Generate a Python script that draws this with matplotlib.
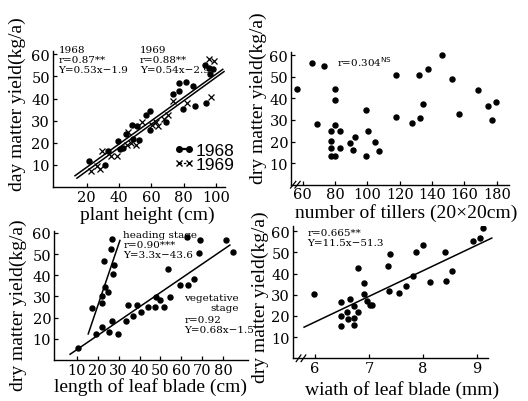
import matplotlib
matplotlib.use("Agg")
import matplotlib.pyplot as plt

# ---------------- data ----------------
# Panel 1: plant height vs dry matter yield
p1_x_1968 = [21.6, 31.3, 33.4, 39.6, 40.6, 42.7, 44.3, 47.8, 50.9, 48.4, 52.5, 56.7, 59.2, 59.2,
             69.1, 73.6, 77.3, 77.3, 79.4, 81.4, 86.0, 87.0, 93.2, 95.9, 98.4, 93.8, 96.3]
p1_y_1968 = [11.8, 10.0, 16.2, 21.0, 17.2, 17.5, 23.9, 28.0, 27.7, 21.7, 21.4, 32.5, 34.5, 25.9,
             29.2, 42.0, 47.0, 43.5, 35.2, 47.6, 45.7, 36.7, 55.0, 54.0, 53.2, 38.2, 51.0]
p1_x_1969 = [22.5, 26.2, 28.2, 29.3, 35.1, 39.0, 45.2, 45.8, 47.2, 50.5, 54.0, 60.2, 62.9, 64.3,
             67.8, 70.5, 73.6, 81.9, 96.7, 95.9, 98.8]
p1_y_1969 = [7.4, 9.4, 8.2, 16.4, 14.2, 14.2, 19.0, 25.0, 19.9, 19.0, 29.5, 28.0, 29.2, 27.5,
             30.8, 32.6, 39.0, 38.2, 40.8, 58.0, 56.9]
p1_line68_x = [12.8, 104.2]
p1_line68_y = [5.1, 53.2]
p1_line69_x = [14.0, 105.0]
p1_line69_y = [4.0, 52.2]

# Panel 2: number of tillers vs yield
p2_x = [56.7, 66.0, 73.2, 69.1, 77.3, 77.3, 77.3, 77.3, 80.0, 80.0, 80.0, 80.0, 82.9, 82.9,
        89.1, 92.4, 91.3, 99.0, 99.4, 100.6, 104.7, 107.2, 117.5, 117.9, 127.8, 132.0, 132.4,
        134.6, 137.7, 146.4, 152.6, 156.7, 168.7, 174.6, 177.3, 179.8]
p2_y = [44.3, 56.6, 55.1, 28.2, 25.1, 20.2, 17.2, 13.5, 44.3, 39.2, 27.7, 13.1, 25.1, 17.2,
        19.4, 22.0, 16.3, 34.5, 13.1, 25.1, 19.7, 15.5, 50.8, 31.5, 28.5, 50.8, 30.8,
        37.5, 53.8, 60.3, 49.2, 32.8, 43.8, 36.6, 30.0, 38.2]

# Panel 3: length of leaf blade vs yield
p3_head_x = [17.1, 21.9, 21.9, 23.0, 23.4, 25.0, 26.7, 26.3, 27.4, 27.8]
p3_head_y = [24.4, 30.0, 27.0, 46.5, 34.4, 32.3, 57.2, 52.6, 40.6, 44.8]
p3_veg_x = [10.3, 19.0, 22.2, 25.4, 26.7, 29.7, 33.3, 34.6, 37.0, 38.6, 40.8, 44.1, 47.6, 47.9,
            49.7, 51.6, 53.7, 54.4, 59.5, 62.7, 63.2, 65.9, 68.6, 69.0, 81.4, 84.9]
p3_veg_y = [5.8, 12.3, 15.5, 13.1, 18.3, 12.3, 18.3, 25.9, 20.6, 25.9, 22.5, 25.2, 25.2, 29.8,
            28.3, 24.8, 43.1, 29.5, 35.3, 58.0, 35.3, 38.4, 50.3, 56.4, 56.4, 50.9]
p3_head_line_x = [15.4, 30.6]
p3_head_line_y = [12.3, 56.4]
p3_veg_line_x = [6.7, 83.3]
p3_veg_line_y = [2.7, 54.2]

# Panel 4: width of leaf blade vs yield
p4_x = [5.98, 6.49, 6.49, 6.49, 6.60, 6.62, 6.64, 6.72, 6.73, 6.73, 6.80, 6.80, 6.90, 6.90,
        6.96, 7.02, 7.05, 7.35, 7.39, 7.37, 7.56, 7.68, 7.82, 7.87, 8.00, 8.12, 8.41, 8.42,
        8.54, 8.93, 9.05, 9.11]
p4_y = [30.2, 26.7, 19.8, 15.1, 21.9, 18.8, 28.0, 24.7, 19.0, 15.7, 42.6, 21.9, 35.6, 30.5,
        27.2, 25.2, 25.2, 43.6, 49.5, 32.0, 30.8, 34.0, 38.7, 50.0, 53.4, 36.0, 50.3, 36.4,
        41.3, 55.3, 56.8, 61.5]
p4_line_x = [5.80, 9.27]
p4_line_y = [14.7, 56.8]

y_ticks = [10, 20, 30, 40, 50, 60]
p1_xticks = [20, 40, 60, 80, 100]
p2_xticks = [60, 80, 100, 120, 140, 160, 180]
p3_xticks = [10, 20, 30, 40, 50, 60, 70, 80]
p4_xticks = [6, 7, 8, 9]

# ---------------- style ----------------
TICKFONT = "DejaVu Serif"
LABELFONT = "Liberation Serif"
ANNFONT = "DejaVu Serif"

fig = plt.figure(figsize=(5.28, 4.02), dpi=100)
fig.patch.set_facecolor("white")

W, H = 528.0, 402.0


def make_ax(left, right, top, bottom):
    return fig.add_axes([left / W, (H - bottom) / H, (right - left) / W, (bottom - top) / H])


def style(ax, xticks, xlim, ylim):
    for s in ["top", "right"]:
        ax.spines[s].set_visible(False)
    for s in ["left", "bottom"]:
        ax.spines[s].set_linewidth(1.0)
    ax.set_xlim(*xlim)
    ax.set_ylim(*ylim)
    ax.set_xticks(xticks)
    ax.set_yticks(y_ticks)
    ax.tick_params(direction="in", length=3, width=0.9, labelsize=10.5, pad=2)
    for lab in ax.get_xticklabels() + ax.get_yticklabels():
        lab.set_fontfamily(TICKFONT)


dot = dict(marker="o", ms=3.6, color="black", linestyle="none")
ann = dict(fontfamily=ANNFONT, fontsize=7.5, va="top", ha="left", linespacing=1.15)
lab = dict(fontfamily=LABELFONT, fontsize=14)

# ---- Panel 1 ----
ax1 = make_ax(52.7, 225, 52, 188)
style(ax1, p1_xticks, (-1, 105.6), (0, 61.5))
ax1.plot(p1_x_1968, p1_y_1968, **dot)
ax1.plot(p1_x_1969, p1_y_1969, marker="x", ms=4.5, mew=0.9, color="black", linestyle="none")
ax1.plot(p1_line68_x, p1_line68_y, color="black", lw=1.1)
ax1.plot(p1_line69_x, p1_line69_y, color="black", lw=1.1)
ax1.text(2.5, 64.3, "1968\nr=0.87**\nY=0.53x\u22121.9", clip_on=False, **ann)
ax1.text(53, 64.3, "1969\nr=0.88**\nY=0.54x\u22122.9", clip_on=False, **ann)
h1, = ax1.plot([], [], color="black", marker="o", ms=4, lw=1.6)
h2, = ax1.plot([], [], color="black", marker="x", ms=5, lw=0.9, linestyle=(0, (2, 1.5)))
ax1.legend([h1, h2], ["1968", "1969"], loc="upper left", bbox_to_anchor=(0.70, 0.325),
           frameon=False, numpoints=2, handlelength=1.2, handletextpad=0.1,
           labelspacing=-0.05, borderpad=0, borderaxespad=0,
           prop={"family": "Liberation Sans", "size": 12.5})
ax1.set_xlabel("plant height (cm)", **lab)
ax1.set_ylabel("day matter yield(kg/a)", **lab)
ax1.xaxis.set_label_coords(0.55, -0.135)
ax1.yaxis.set_label_coords(-0.155, 0.62)

# ---- Panel 2 ----
ax2 = make_ax(291, 509, 53, 185.7)
style(ax2, p2_xticks, (52.8, 187.6), (0, 61.5))
ax2.plot(p2_x, p2_y, **dot)
ax2.text(81, 60.5, "r=0.304$^{\\rm NS}$", clip_on=False, **ann)
ax2.set_xlabel("number of tillers (20\u00d720cm)", **lab)
ax2.set_ylabel("dry matter yield(kg/a)", **lab)
ax2.xaxis.set_label_coords(0.53, -0.135)
ax2.yaxis.set_label_coords(-0.108, 0.66)

# ---- Panel 3 ----
ax3 = make_ax(54, 248, 231.7, 361)
style(ax3, p3_xticks, (-1, 92), (0, 61))
ax3.plot(p3_head_x, p3_head_y, **dot)
ax3.plot(p3_veg_x, p3_veg_y, **dot)
ax3.plot(p3_head_line_x, p3_head_line_y, color="black", lw=1.1)
ax3.plot(p3_veg_line_x, p3_veg_line_y, color="black", lw=1.1)
ax3.text(32.2, 61.3, "heading stage\nr=0.90***\nY=3.3x\u221243.6", clip_on=False, **ann)
ax3.text(61.5, 31.5, "vegetative\nstage", multialignment="right", **ann)
ax3.text(61.5, 21.2, "r=0.92\nY=0.68x\u22121.5", **ann)
ax3.set_xlabel("length of leaf blade (cm)", **lab)
ax3.set_ylabel("dry matter yield(kg/a)", **lab)
ax3.xaxis.set_label_coords(0.495, -0.135)
ax3.yaxis.set_label_coords(-0.14, 0.43)

# ---- Panel 4 ----
ax4 = make_ax(292.7, 488, 227, 359.3)
style(ax4, p4_xticks, (5.59, 9.2), (0, 62.5))
ax4.plot(p4_x, p4_y, **dot)
ax4.plot(p4_line_x, p4_line_y, color="black", lw=1.1, clip_on=False)
ax4.text(5.86, 61.6, "r=0.665**\nY=11.5x\u221251.3", clip_on=False, **ann)
ax4.set_xlabel("wiath of leaf blade (mm)", **lab)
ax4.set_ylabel("dry matter yield(kg/a)", **lab)
ax4.xaxis.set_label_coords(0.56, -0.165)
ax4.yaxis.set_label_coords(-0.12, 0.47)

# axis-break marks
for ax, offs in ((ax2, (0.01, 0.03)), (ax4, (0.03, 0.055))):
    for o in offs:
        ax.plot([o - 0.012, o + 0.012], [-0.025, 0.025], transform=ax.transAxes,
                color="black", lw=0.9, clip_on=False)

fig.savefig("out.png", dpi=100, facecolor="white")
